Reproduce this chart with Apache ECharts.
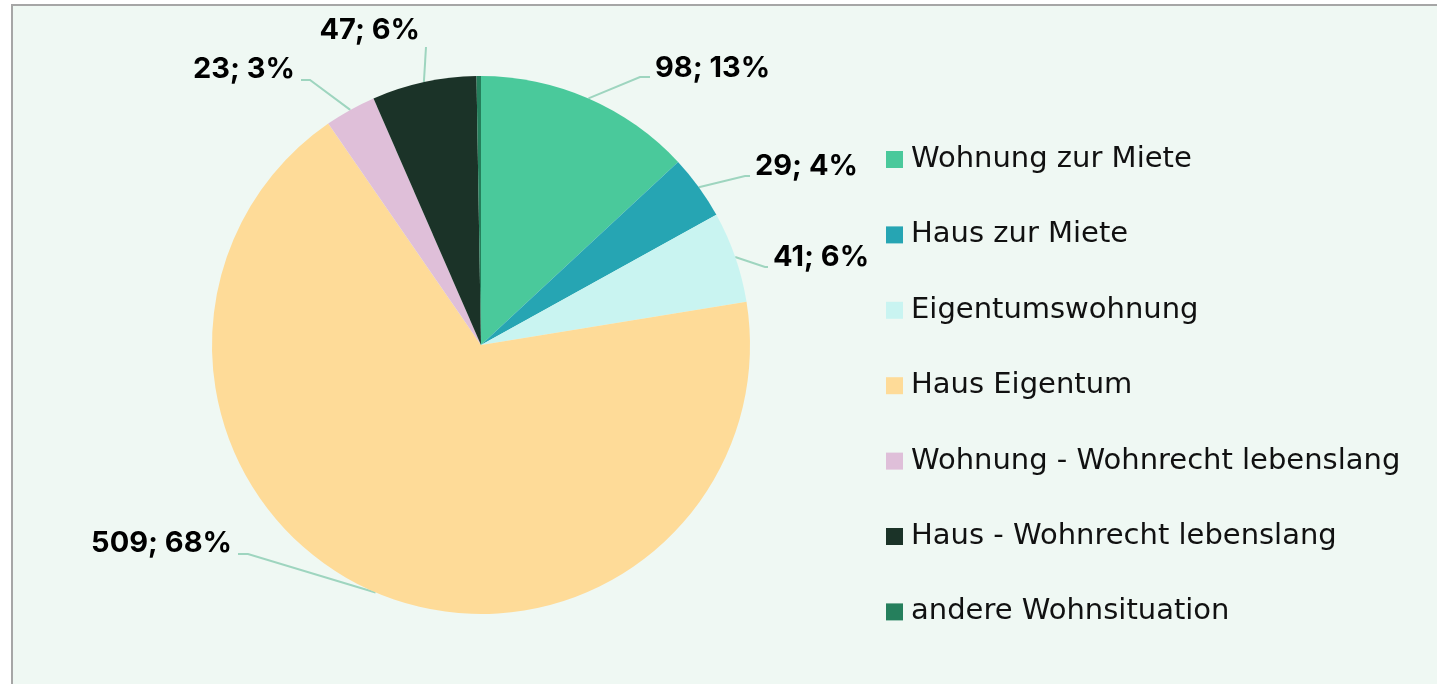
<!DOCTYPE html>
<html>
<head>
<meta charset="utf-8">
<script src="https://cdn.jsdelivr.net/npm/echarts@6/dist/echarts.min.js"></script>
<style>
  html, body { margin: 0; padding: 0; background: #fff; overflow: hidden; }
  /* Rahmen + Hintergrund der Diagrammfläche */
  #frame {
    position: absolute; left: 11px; top: 4px;
    width: 1500px; height: 800px;
    border: 2px solid #a6a6a6;
    background: #eff8f3;
  }
  #chart { position: absolute; left: 0; top: 0; width: 1437px; height: 684px; }
</style>
</head>
<body>
<div id="frame"></div>
<div id="chart"></div>
<script>
// Kategorien und Werte
const categories = [
  'Wohnung zur Miete',
  'Haus zur Miete',
  'Eigentumswohnung',
  'Haus Eigentum',
  'Wohnung - Wohnrecht lebenslang',
  'Haus - Wohnrecht lebenslang',
  'andere Wohnsituation'
]
const values = [98, 29, 41, 509, 23, 47, 2]
const colors = ['#4ac99b', '#26a5b3', '#c9f4f1', '#fedb98', '#dfbfd9', '#1b3328', '#257f5c']
// Beschriftung nur für diese Segmente
const showLabel = [true, true, true, true, true, true, false]

const chart = echarts.init(document.getElementById('chart'))

// Beschriftungen wurden im Original von Hand verschoben (Excel) -> hier nachgebaut
// [Ankerpunkt x, Mitte y, Ausrichtung, Knick x, Linie y]
const labelPlace = [
  [655, 68, 'left', 640, 77],
  [755, 166, 'left', 745, 176],
  [773, 257, 'left', 765, 267],
  [232, 543, 'right', 248, 554],
  [295, 69, 'right', 310, 80],
  [420, 30, 'right', 426, 47]
]

chart.setOption({
  backgroundColor: 'transparent',
  color: colors,
  legend: {
    orient: 'vertical',
    left: 886,
    top: 145,
    padding: 0,
    itemWidth: 17,
    itemHeight: 17,
    itemGap: 46.4,
    icon: 'rect',
    textStyle: {
      fontFamily: 'DejaVu Sans',
      fontSize: 29,
      lineHeight: 28,
      color: '#111',
      padding: [0, 0, 0, 3]
    },
    data: categories
  },
  series: [
    {
      type: 'pie',
      center: [481, 345],
      radius: 269,
      startAngle: 90,
      clockwise: true,
      percentPrecision: 0,
      avoidLabelOverlap: false,
      itemStyle: { borderWidth: 0 },
      label: {
        show: true,
        position: 'outside',
        fontFamily: 'Inter',
        fontWeight: 'bold',
        fontSize: 29,
        color: '#000',
        formatter: p => p.value + '; ' + p.percent + '%'
      },
      labelLine: {
        show: true,
        length: 30,
        length2: 12,
        lineStyle: { color: '#9ed5bf', width: 2 }
      },
      labelLayout: p => {
        const lp = labelPlace[p.dataIndex]
        if (!lp) return {}
        const start = p.labelLinePoints ? p.labelLinePoints[0] : null
        const endX = lp[2] === 'left' ? lp[0] - 5 : lp[0] + 6
        const out = { x: lp[0], y: lp[1], align: lp[2], verticalAlign: 'middle' }
        if (start) out.labelLinePoints = [start, [lp[3], lp[4]], [p.dataIndex === 5 ? lp[3] : endX, lp[4]]]
        return out
      },
      emphasis: { disabled: true },
      data: categories.map((name, i) => ({
        name,
        value: values[i],
        label: { show: showLabel[i] },
        labelLine: { show: showLabel[i] }
      }))
    }
  ]
})
</script>
</body>
</html>
